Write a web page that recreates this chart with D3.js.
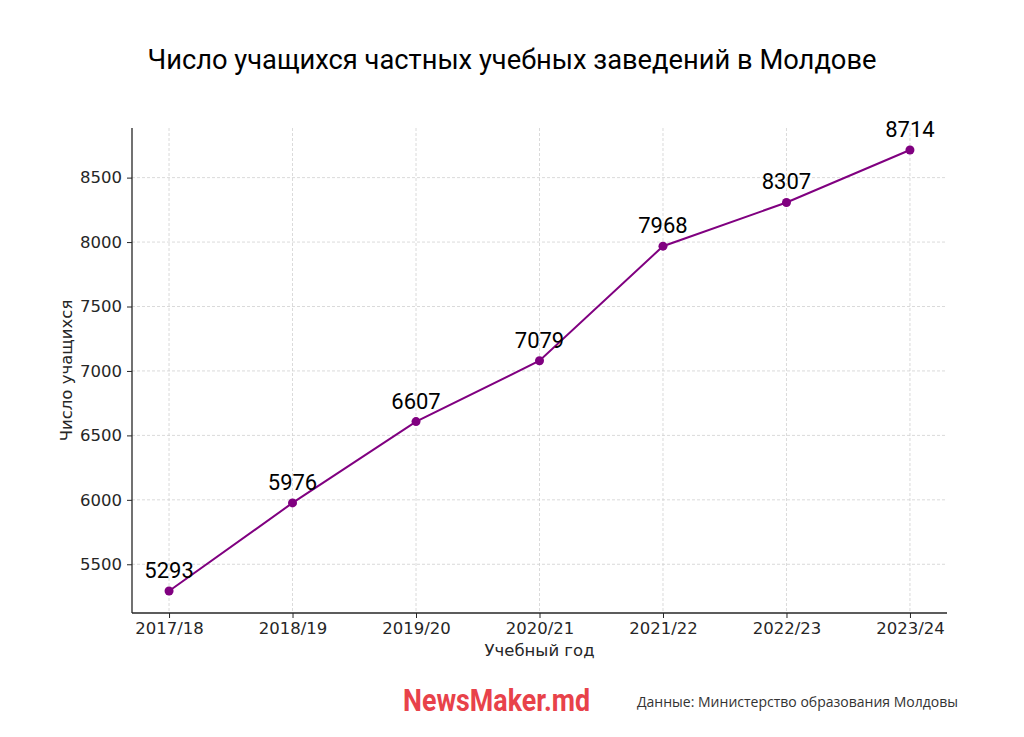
<!DOCTYPE html>
<html><head><meta charset="utf-8">
<script src="https://cdn.jsdelivr.net/npm/d3@7"></script>
<style>body{margin:0;background:#fff}svg{display:block}</style>
</head><body>
<script>
const years = ["2017/18","2018/19","2019/20","2020/21","2021/22","2022/23","2023/24"];
const students = [5293, 5976, 6607, 7079, 7968, 8307, 8714];
const yTicks = [5500, 6000, 6500, 7000, 7500, 8000, 8500];
const titleText = "Число учащихся частных учебных заведений в Молдове";
const xLabel = "Учебный год";
const yLabel = "Число учащихся";
const brand = "NewsMaker.md";
const source = "Данные: Министерство образования Молдовы";

const W = 1024, H = 737;
const L = 132, R = 947, T = 128, B = 613;
const svg = d3.select("body").append("svg").attr("width", W).attr("height", H);

const x = d3.scaleLinear().domain([-0.3, years.length - 1 + 0.3]).range([L, R]);
const y = d3.scaleLinear().domain([5122, 8885]).range([B, T]);

// grid
const g = svg.append("g");
g.selectAll(".vg").data(years).join("line")
  .attr("x1", (d,i)=>x(i)).attr("x2", (d,i)=>x(i)).attr("y1", T).attr("y2", B)
  .attr("stroke", "#d0d0d0").attr("stroke-dasharray", "3,2").attr("stroke-width", 0.8);
g.selectAll(".hg").data(yTicks).join("line")
  .attr("x1", L).attr("x2", R).attr("y1", d=>y(d)).attr("y2", d=>y(d))
  .attr("stroke", "#d0d0d0").attr("stroke-dasharray", "3,2").attr("stroke-width", 0.8);

// axes
const xAxis = d3.axisBottom(x).tickValues(d3.range(years.length)).tickFormat(i=>years[i]).tickSize(5).tickPadding(4);
const yAxis = d3.axisLeft(y).tickValues(yTicks).tickFormat(d3.format("d")).tickSize(5).tickPadding(5);
const xa = svg.append("g").attr("transform", `translate(0,${B})`).call(xAxis);
const ya = svg.append("g").attr("transform", `translate(${L},0)`).call(yAxis);
[xa, ya].forEach(a => {
  a.select(".domain").remove();
  a.selectAll(".tick line").attr("stroke", "#262626").attr("stroke-width", 1);
  a.selectAll(".tick text").attr("fill", "#262626").style("font-family", "DejaVu Sans").style("font-size", "16.5px");
});
svg.append("line").attr("x1", L).attr("x2", L).attr("y1", T).attr("y2", B).attr("stroke", "#262626").attr("stroke-width", 1.3);
svg.append("line").attr("x1", L).attr("x2", R).attr("y1", B).attr("y2", B).attr("stroke", "#262626").attr("stroke-width", 1.3);

// line
const line = d3.line().x((d,i)=>x(i)).y(d=>y(d));
svg.append("path").datum(students).attr("d", line).attr("fill", "none")
  .attr("stroke", "#800080").attr("stroke-width", 2);
svg.selectAll(".pt").data(students).join("circle")
  .attr("cx", (d,i)=>x(i)).attr("cy", d=>y(d)).attr("r", 4.5).attr("fill", "#800080");
svg.selectAll(".lbl").data(students).join("text")
  .attr("x", (d,i)=>x(i)).attr("y", d=>y(d) - 13).attr("text-anchor", "middle")
  .style("font-family", "Roboto").style("font-size", "22px").attr("fill", "#000")
  .text(d=>d);

// title & labels
svg.append("text").attr("x", 512).attr("y", 69).attr("text-anchor", "middle")
  .style("font-family", "Roboto").style("font-size", "27.3px").attr("fill", "#000").text(titleText);
svg.append("text").attr("x", (L+R)/2).attr("y", 656).attr("text-anchor", "middle")
  .style("font-family", "DejaVu Sans").style("font-size", "16.5px").attr("fill", "#262626").text(xLabel);
svg.append("text").attr("transform", `translate(72,${(T+B)/2}) rotate(-90)`).attr("text-anchor", "middle")
  .style("font-family", "DejaVu Sans").style("font-size", "16.5px").attr("fill", "#262626").text(yLabel);

// footer
svg.append("text").attr("x", 403).attr("y", 711)
  .attr("textLength", 187).attr("lengthAdjust", "spacingAndGlyphs")
  .style("font-family", "Roboto").style("font-weight", "bold").style("font-size", "31px")
  .attr("fill", "#e8424a").text(brand);
svg.append("text").attr("x", 637).attr("y", 707)
  .attr("textLength", 321).attr("lengthAdjust", "spacingAndGlyphs")
  .style("font-family", "Open Sans").style("font-size", "14.5px").attr("fill", "#333").text(source);
</script>
</body></html>
